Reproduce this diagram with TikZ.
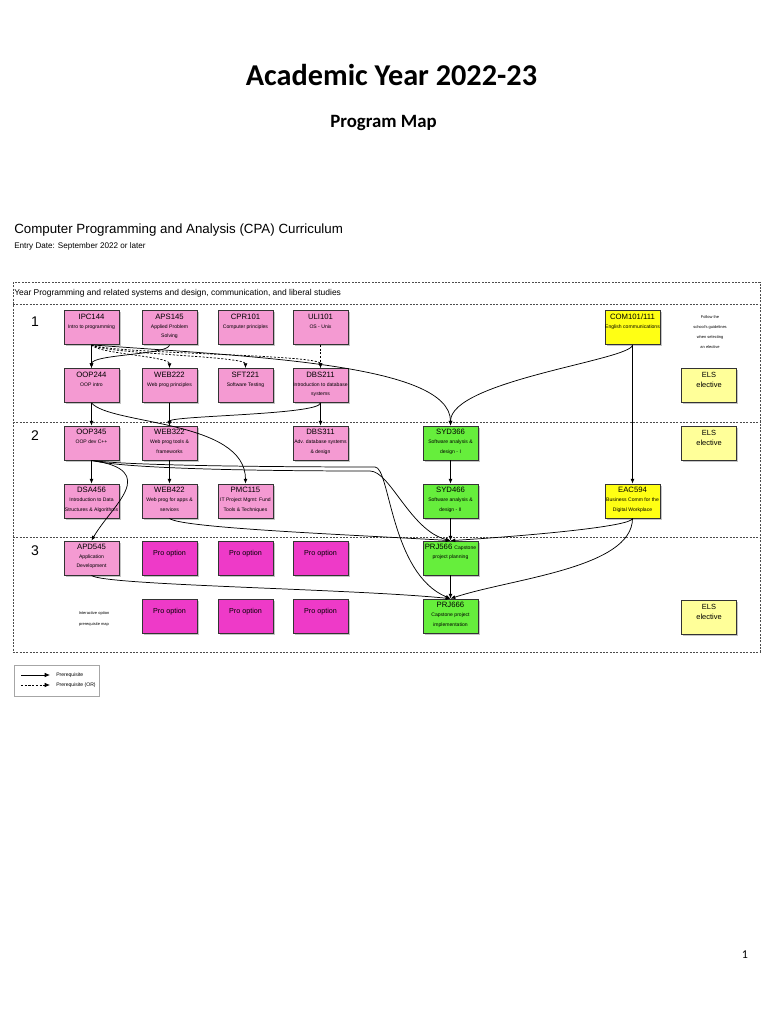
\documentclass[tikz,border=0pt]{standalone}
\usepackage{fontspec}
\setmainfont{Liberation Sans}
\newfontfamily\titlefont{Carlito}
\usepackage{tikz}
\usetikzlibrary{arrows.meta,positioning,shadows}
\definecolor{crspink}{HTML}{F49AD2}
\definecolor{propink}{HTML}{EE3AC8}
\definecolor{crsgreen}{HTML}{66EE3C}
\definecolor{crsyellow}{HTML}{FFFF14}
\definecolor{elsyellow}{HTML}{FFFF99}
\newcommand{\codefont}{\fontsize{5.8}{7}\selectfont}
\newcommand{\descfont}{\fontsize{3.8}{6.8}\selectfont}
\newcommand{\crsbox}[2]{\parbox[c][25.5pt][t]{41pt}{\centering\vspace*{2.6pt}{\codefont #1\par}{\descfont #2\par}}}
\newcommand{\elsbox}{\parbox[c][25.5pt][t]{41pt}{\centering\vspace*{3.2pt}\fontsize{5.6}{7.5}\selectfont ELS\\elective\par}}
\newcommand{\probox}{\parbox[c][25.5pt][t]{41pt}{\centering\vspace*{7pt}\fontsize{5.4}{6}\selectfont Pro option\par}}

\begin{document}
\begin{tikzpicture}[x=0.75pt,y=-0.75pt,
		crs/.style={draw=black!80,line width=0.55pt,fill=crspink,inner sep=0pt,minimum width=41.25pt,minimum height=25.5pt,
			drop shadow={shadow xshift=1.2pt,shadow yshift=-1.2pt,opacity=0.45}},
		els/.style={crs,fill=elsyellow},
		pro/.style={crs,fill=propink},
		grn/.style={crs,fill=crsgreen},
		ylw/.style={crs,fill=crsyellow},
		pre/.style={draw=black,line width=0.55pt,-{Latex[length=3.6pt,width=3pt]}},
		preor/.style={pre,dashed,dash pattern=on 1.6pt off 1.2pt},
		frame/.style={draw=black!70,line width=0.45pt,dash pattern=on 1.5pt off 1pt}]
		\fill[white] (0,0) rectangle (768,1024);
		\useasboundingbox (0,0) rectangle (768,1024);
		\node (title) at (391.5,75) {\titlefont\bfseries\fontsize{22.7}{26}\selectfont Academic Year 2022-23};
		\node (subtitle) at (383.5,123) {\titlefont\bfseries\fontsize{14.1}{17}\selectfont Program Map};
		\node[anchor=west,inner sep=0pt] (cpa) at (14,230) {\fontsize{10}{12}\selectfont Computer Programming and Analysis (CPA) Curriculum};
		\node[anchor=west,inner sep=0pt] (entry) at (14,246) {\fontsize{6.1}{7}\selectfont Entry Date: September 2022 or later};
		\draw[frame] (13,282) rectangle (760,652);
		\draw[frame] (13,304) -- (760,304);
		\draw[frame] (13,422) -- (760,422);
		\draw[frame] (13,537) -- (760,537);
		\node[anchor=west,inner sep=0pt] (hdr) at (14,293) {\fontsize{6.35}{7}\selectfont Year Programming and related systems and design, communication, and liberal studies};
		\node (y1) at (35,322) {\fontsize{10.5}{12}\selectfont 1};
		\node (y2) at (35,436) {\fontsize{10.5}{12}\selectfont 2};
		\node (y3) at (35,551) {\fontsize{10.5}{12}\selectfont 3};
		\node[crs] (ipc) at (91.5,327.5) {\crsbox{IPC144}{Intro to programming}};
		\node[crs] (aps) at (169.5,327.5) {\crsbox{APS145}{Applied Problem\\Solving}};
		\node[crs] (cpr) at (245.5,327.5) {\crsbox{CPR101}{Computer principles}};
		\node[crs] (uli) at (320.5,327.5) {\crsbox{ULI101}{OS - Unix}};
		\node[ylw] (com) at (632.5,327.5) {\crsbox{COM101/111}{English communications}};
		\node[align=center,inner sep=0pt,font=\fontsize{3}{7.6}\selectfont] (elsnote) at (710,332) {Follow the\\school's guidelines\\when selecting\\an elective};
		\node[crs] (oop244) at (91.5,385.5) {\crsbox{OOP244}{OOP intro}};
		\node[crs] (web222) at (169.5,385.5) {\crsbox{WEB222}{Web prog principles}};
		\node[crs] (sft) at (245.5,385.5) {\crsbox{SFT221}{Software Testing}};
		\node[crs] (dbs211) at (320.5,385.5) {\crsbox{DBS211}{Introduction to database\\systems}};
		\node[els] (els1) at (709,385) {\elsbox};
		\node[crs] (oop345) at (91.5,443) {\crsbox{OOP345}{OOP dev C++}};
		\node[crs] (web322) at (169.5,443) {\crsbox{WEB322}{Web prog tools \&\\frameworks}};
		\node[crs] (dbs311) at (320.5,443) {\crsbox{DBS311}{Adv. database systems\\\& design}};
		\node[grn] (syd366) at (450.5,443) {\crsbox{SYD366}{Software analysis \&\\design - I}};
		\node[els] (els2) at (709,443) {\elsbox};
		\node[crs] (dsa) at (91.5,501) {\crsbox{DSA456}{Introduction to Data\\Structures \& Algorithms}};
		\node[crs] (web422) at (169.5,501) {\crsbox{WEB422}{Web prog for apps \&\\services}};
		\node[crs] (pmc) at (245.5,501) {\crsbox{PMC115}{IT Project Mgmt: Fund\\Tools \& Techniques}};
		\node[grn] (syd466) at (450.5,501) {\crsbox{SYD466}{Software analysis \&\\design - II}};
		\node[ylw] (eac) at (632.5,501) {\crsbox{EAC594}{Business Comm for the\\Digital Workplace}};
		\node[crs] (apd) at (91.5,558) {\crsbox{APD545}{Application\\Development}};
		\node[pro] (pro1) at (169.5,558) {\probox};
		\node[pro] (pro2) at (245.5,558) {\probox};
		\node[pro] (pro3) at (320.5,558) {\probox};
		\node[grn] (prj566) at (450.5,558) {\crsbox{PRJ566 {\descfont Capstone}}{project planning}};
		\node[align=center,inner sep=0pt,font=\fontsize{3}{8.2}\selectfont] (mapnote) at (94,619) {Interactive option\\prerequisite map};
		\node[pro] (pro4) at (169.5,616) {\probox};
		\node[pro] (pro5) at (245.5,616) {\probox};
		\node[pro] (pro6) at (320.5,616) {\probox};
		\node[grn] (prj666) at (450.5,616) {\crsbox{PRJ666}{Capstone project\\implementation}};
		\node[els] (els3) at (709,617) {\elsbox};
		\draw[pre] (ipc) -- (oop244);
		\draw[pre] (aps.south) .. controls +(0,10) and +(0,-14) .. (oop244.north);
		\draw[preor] (ipc.south) .. controls +(6,9) and +(0,-12) .. (web222.north);
		\draw[preor] (ipc.south) .. controls +(12,9) and +(0,-12) .. (sft.north);
		\draw[preor] (ipc.south) .. controls +(18,9) and +(0,-14) .. (dbs211.north);
		\draw[preor] (uli) -- (dbs211);
		\draw[pre] (ipc.south) .. controls +(160,12) and +(0,-62) .. (syd366.north);
		\draw[pre] (com.south) .. controls +(0,15) and +(0,-45) .. (syd366.north);
		\draw[pre] (com) -- (eac);
		\draw[pre] (oop244) -- (oop345);
		\draw[pre] (oop244.south) .. controls +(18,22) and +(0,-64) .. (pmc.north);
		\draw[pre] (web222) -- (web322);
		\draw[pre] (dbs211.south) .. controls +(0,12) and +(0,-10) .. (web322.north);
		\draw[pre] (dbs211) -- (dbs311);
		\draw[pre] (syd366) -- (syd466);
		\draw[pre] (oop345) -- (dsa);
		\draw[pre] (oop345.south) .. controls +(70,10) and +(20,-35) .. (apd.north);
		\draw[pre] (oop345.south) .. controls +(40,10) and +(-60,0) .. (370,471) .. controls +(20,0) and +(-40,-10) .. (prj566.north);
		\draw[pre] (oop345.south) .. controls +(40,6) and +(-60,0) .. (375,467) .. controls +(15,0) and +(-60,-25) .. (prj666.north);
		\draw[pre] (web322) -- (web422);
		\draw[pre] (web422.south) .. controls +(10,10) and +(-80,-5) .. (prj566.north);
		\draw[pre] (syd466) -- (prj566);
		\draw[pre] (eac.south) .. controls +(0,8) and +(80,-5) .. (prj566.north);
		\draw[pre] (eac.south) .. controls +(0,50) and +(60,-20) .. (prj666.north);
		\draw[pre] (apd.south) .. controls +(10,10) and +(-100,-10) .. (prj666.north);
		\draw[pre] (prj566) -- (prj666);
		\node[draw=black!35,line width=0.4pt,minimum width=63.75pt,minimum height=23.25pt,inner sep=0pt] (legend) at (56.5,680.5) {};
		\coordinate (la) at (21,675);
		\coordinate (lb) at (50,675);
		\coordinate (lc) at (21,685);
		\coordinate (ld) at (50,685);
		\draw[pre,line width=0.6pt,-{Latex[length=4pt,width=3.5pt]}] (la) -- (lb);
		\draw[preor,line width=0.6pt,-{Latex[length=4pt,width=3.5pt]}] (lc) -- (ld);
		\node[anchor=west,inner sep=0pt] (lsolid) at (56,675) {\fontsize{3.8}{4}\selectfont Prerequisite};
		\node[anchor=west,inner sep=0pt] (ldash) at (56,685) {\fontsize{3.8}{4}\selectfont Prerequisite (OR)};
		\node (page) at (745,955) {\titlefont\fontsize{9}{10}\selectfont 1};
		\end{tikzpicture}
\end{document}
